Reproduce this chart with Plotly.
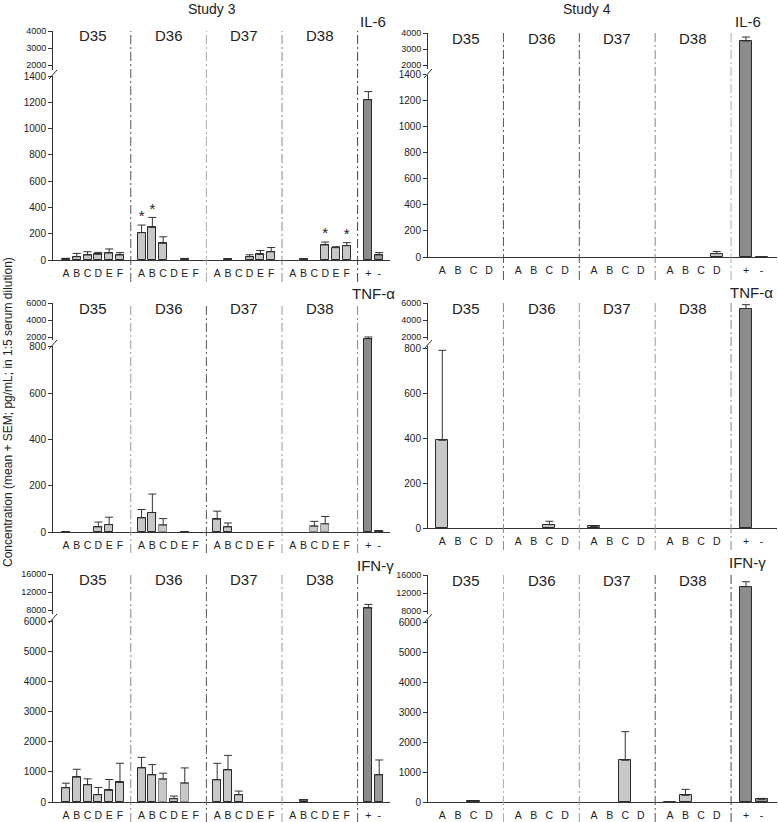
import plotly.graph_objects as go

W, H = 778, 822

groups = ["D35", "D36", "D37", "D38"]
letters_s3 = ["A", "B", "C", "D", "E", "F"]
letters_s4 = ["A", "B", "C", "D"]
ctrl_labels = ["+", "-"]
cytokines = ["IL-6", "TNF-α", "IFN-γ"]
studies = ["Study 3", "Study 4"]

# ---- Study 3 (groups D35..D38, animals A..F); None = no bar ----
il6_s3_mean = [[10, 25, 38, 43, 53, 38], [208, 248, 127, None, 10, None],
               [None, 5, None, 25, 42, 62], [None, 5, None, 114, 94, 109]]
il6_s3_sem = [[3, 25, 25, 15, 31, 18], [58, 76, 50, None, 2, None],
              [None, 2, None, 15, 30, 33], [None, 2, None, 23, 7, 23]]
il6_s3_ctrl = [1220, 38]
il6_s3_ctrl_sem = [62, 18]

tnf_s3_mean = [[2, None, None, 22, 32, None], [61, 84, 30, None, 2, None],
               [55, 22, None, None, None, None], [None, None, 25, 35, None, None]]
tnf_s3_sem = [[0, None, None, 21, 32, None], [36, 80, 28, None, 0, None],
              [35, 17, None, None, None, None], [None, None, 21, 32, None, None]]
tnf_s3_ctrl = [1800, 3]
tnf_s3_ctrl_sem = [200, 0]

ifn_s3_mean = [[473, 824, 571, 242, 385, 648], [1132, 901, 758, 110, 626, None],
               [736, 1066, 242, None, None, None], [None, 60, None, None, None, None]]
ifn_s3_sem = [[153, 264, 198, 242, 362, 638], [352, 341, 198, 88, 506, None],
              [550, 483, 121, None, None, None], [None, 20, None, None, None, None]]
ifn_s3_ctrl = [8500, 901]
ifn_s3_ctrl_sem = [800, 495]

# ---- Study 4 (groups D35..D38, animals A..D) ----
il6_s4_mean = [[None] * 4, [None] * 4, [None] * 4, [None, None, None, 26]]
il6_s4_sem = [[None] * 4, [None] * 4, [None] * 4, [None, None, None, 16]]
il6_s4_ctrl = [3500, 3]
il6_s4_ctrl_sem = [250, 0]

tnf_s4_mean = [[390, None, None, None], [None, None, 15, None],
               [7, None, None, None], [None] * 4]
tnf_s4_sem = [[400, None, None, None], [None, None, 15, None],
              [3, None, None, None], [None] * 4]
tnf_s4_ctrl = [5350, None]
tnf_s4_ctrl_sem = [450, None]

ifn_s4_mean = [[None, None, 20, None], [None] * 4,
               [None, None, 1390, None], [15, 222, None, None]]
ifn_s4_sem = [[None, None, 0, None], [None] * 4,
              [None, None, 955, None], [0, 200, None, None]]
ifn_s4_ctrl = [13400, 90]
ifn_s4_ctrl_sem = [1100, 30]

# tick values for the broken axes (lower part, upper part)
il6_ticks_low = [0, 200, 400, 600, 800, 1000, 1200, 1400]
il6_ticks_high = [2000, 3000, 4000]
tnf_ticks_low = [0, 200, 400, 600, 800]
tnf_ticks_high = [2000, 4000, 6000]
ifn_ticks_low = [0, 1000, 2000, 3000, 4000, 5000, 6000]
ifn_ticks_high = [8000, 12000, 16000]

# ---------------- layout geometry (pixels) ----------------
COLS = {
    0: dict(x0=53, x1=390, period=7.0, first_div=6.0, ctrl=[28, 29], rng=[-1.2, 30.0],
            letters=letters_s3, bw=0.74, label_cx=[373, 373, 375]),
    1: dict(x0=428, x1=777, period=4.865, first_div=3.92, ctrl=[19.47, 20.47], rng=[-0.917, 21.46],
            letters=letters_s4, bw=0.77, label_cx=[748, 751, 747]),
}
ROWS = {
    (0, 0): dict(zero=260, brk=72, top=31, bmax=1431, trng=[1600, 4000], lab=282),
    (0, 1): dict(zero=257, brk=71, top=33, bmax=1425, trng=[1625, 4000], lab=280),
    (1, 0): dict(zero=532, brk=342, top=303, bmax=821, trng=[1412, 6000], lab=553),
    (1, 1): dict(zero=528, brk=342, top=303, bmax=827, trng=[1412, 6000], lab=550),
    (2, 0): dict(zero=802, brk=616, top=574, bmax=6179, trng=[6744, 16000], lab=822),
    (2, 1): dict(zero=802, brk=616, top=575, bmax=6200, trng=[6900, 16000], lab=822),
}
YTICKS = [(il6_ticks_low, il6_ticks_high), (tnf_ticks_low, tnf_ticks_high),
          (ifn_ticks_low, ifn_ticks_high)]
LABEL_Y = [[22, 21], [293, 292], [565, 562]]
DIV_COLORS = {
    (0, 0): ["#555", "#aaa", "#888", "#444"],
    (0, 1): ["#555", "#555", "#888", "#aaa"],
    (1, 0): ["#999", "#555", "#999", "#888"],
    (1, 1): ["#888", "#999", "#999", "#888"],
    (2, 0): ["#888", "#555", "#999", "#555"],
    (2, 1): ["#aaa", "#999", "#555", "#444"],
}
LIGHT_OUTLINE = {(1, 0): [(1, 2), (3, 2), (3, 3)], (2, 0): [(1, 2), (1, 4)]}

DATA = {
    (0, 0): (il6_s3_mean, il6_s3_sem, il6_s3_ctrl, il6_s3_ctrl_sem),
    (0, 1): (il6_s4_mean, il6_s4_sem, il6_s4_ctrl, il6_s4_ctrl_sem),
    (1, 0): (tnf_s3_mean, tnf_s3_sem, tnf_s3_ctrl, tnf_s3_ctrl_sem),
    (1, 1): (tnf_s4_mean, tnf_s4_sem, tnf_s4_ctrl, tnf_s4_ctrl_sem),
    (2, 0): (ifn_s3_mean, ifn_s3_sem, ifn_s3_ctrl, ifn_s3_ctrl_sem),
    (2, 1): (ifn_s4_mean, ifn_s4_sem, ifn_s4_ctrl, ifn_s4_ctrl_sem),
}

FONT = "Liberation Sans, Arial, sans-serif"
AX = "#333333"


def px(xp):
    return xp / W


def py(yp):
    return 1 - yp / H


def sfx(n):
    return "" if n == 1 else str(n)


def label(x, y, text, size, xref="paper", **kw):
    return dict(xref=xref, yref="paper", x=x, y=y, text=text, showarrow=False,
                xanchor="center", yanchor="middle", font=dict(size=size, color="#222"), **kw)


fig = go.Figure()
layout = dict(width=W, height=H, margin=dict(l=0, r=0, t=0, b=0, pad=0, autoexpand=False),
              showlegend=False, template="none",
              plot_bgcolor="white", paper_bgcolor="white", font=dict(family=FONT, color="#222"))
shapes, annotations = [], []

for (r, c), (means, sems, cmeans, csems) in DATA.items():
    p = r * 2 + c
    nb, nt = 2 * p + 1, 2 * p + 2
    col, geo = COLS[c], ROWS[(r, c)]
    letters = col["letters"]
    xs, ys, es, fills, lines, tv, tt = [], [], [], [], [], [], []
    light = LIGHT_OUTLINE.get((r, c), [])
    for g in range(len(groups)):
        for i, let in enumerate(letters):
            x = g * col["period"] + i
            tv.append(x)
            tt.append(let)
            xs.append(x)
            ys.append(means[g][i])
            es.append(sems[g][i] if sems[g][i] is not None else 0)
            fills.append("#c8c8c8")
            lines.append("#8a8a8a" if (g, i) in light else "#2b2b2b")
    for k, lab in enumerate(ctrl_labels):
        x = col["ctrl"][k]
        tv.append(x)
        tt.append(lab)
        xs.append(x)
        ys.append(cmeans[k])
        es.append(csems[k] if csems[k] is not None else 0)
        fills.append("#8c8c8c" if k == 0 else "#9c9c9c")
        lines.append("#2b2b2b")

    for n in (nb, nt):
        fig.add_trace(go.Bar(
            x=xs, y=ys, width=col["bw"], xaxis="x" + sfx(n), yaxis="y" + sfx(n),
            marker=dict(color=fills, line=dict(color=lines, width=1)),
            error_y=dict(type="data", symmetric=False, array=es, arrayminus=[0] * len(es),
                         color="#333", thickness=1, width=4),
            hoverinfo="skip"))

    xdom = [px(col["x0"]), px(col["x1"])]
    btick, ttick = YTICKS[r]
    common_y = dict(tickmode="array", ticks="outside", ticklen=4, tickcolor=AX, showline=True,
                    linecolor=AX, linewidth=1, showgrid=False, zeroline=False,
                    automargin=False, fixedrange=True)
    layout["xaxis" + sfx(nb)] = dict(domain=xdom, range=col["rng"], anchor="y" + sfx(nb),
                                     tickmode="array", tickvals=tv, ticktext=tt, ticks="",
                                     showline=True, linecolor=AX, linewidth=1, showgrid=False,
                                     zeroline=False, tickfont=dict(size=10.5, color="#222"),
                                     ticklabelstandoff=3, automargin=False, fixedrange=True)
    layout["xaxis" + sfx(nt)] = dict(domain=xdom, range=col["rng"], anchor="y" + sfx(nt),
                                     visible=False, automargin=False, fixedrange=True)
    layout["yaxis" + sfx(nb)] = dict(domain=[py(geo["zero"]), py(geo["brk"])], range=[0, geo["bmax"]],
                                     anchor="x" + sfx(nb), tickvals=btick,
                                     ticktext=[str(v) for v in btick],
                                     tickfont=dict(size=10, color="#222"), **common_y)
    layout["yaxis" + sfx(nt)] = dict(domain=[py(geo["brk"]), py(geo["top"])], range=geo["trng"],
                                     anchor="x" + sfx(nt), tickvals=ttick,
                                     ticktext=[str(v) for v in ttick],
                                     tickfont=dict(size=9, color="#222"), **common_y)

    # group dividers and day labels
    for g in range(len(groups)):
        xd = g * col["period"] + col["first_div"]
        shapes.append(dict(type="line", xref="x" + sfx(nb), yref="paper", x0=xd, x1=xd,
                           y0=py(geo["lab"]), y1=py(geo["top"]),
                           line=dict(color=DIV_COLORS[(r, c)][g], width=1, dash="9px,3px,2px,3px")))
        annotations.append(label(g * col["period"] + (len(letters) - 1) / 2, py(geo["top"] + 5),
                                 groups[g], 15, xref="x" + sfx(nb)))
    # axis break marks
    ax0 = col["x0"]
    b = geo["brk"]
    shapes.append(dict(type="rect", xref="paper", yref="paper", x0=px(ax0 - 2), x1=px(ax0 + 2),
                       y0=py(b + 4), y1=py(b - 2), fillcolor="white", line=dict(width=0), layer="above"))
    shapes.append(dict(type="line", xref="paper", yref="paper", x0=px(ax0 - 4), x1=px(ax0 + 4),
                       y0=py(b + 7), y1=py(b - 2), line=dict(color=AX, width=1), layer="above"))
    # cytokine label
    annotations.append(label(px(col["label_cx"][r]), py(LABEL_Y[r][c]), cytokines[r], 15))

# significance stars (IL-6, Study 3)
star_pts = [(1, 0), (1, 1), (3, 3), (3, 5)]
fig.add_trace(go.Scatter(
    x=[g * 7.0 + i for g, i in star_pts],
    y=[il6_s3_mean[g][i] + il6_s3_sem[g][i] for g, i in star_pts],
    mode="text", text=["*"] * len(star_pts), textposition="top center",
    textfont=dict(size=15, color="#222", family=FONT), xaxis="x", yaxis="y",
    hoverinfo="skip", cliponaxis=False))

# study titles
annotations.append(label(px(212), py(9), studies[0], 14))
annotations.append(label(px(587), py(9), studies[1], 14))
# y-axis title
annotations.append(label(px(8), py(412), "Concentration (mean + SEM; pg/mL; in 1:5 serum dilution)",
                         12, textangle=-90))

layout["shapes"] = shapes
layout["annotations"] = annotations
layout["bargap"] = 0
fig.update_layout(**layout)
fig.write_html("out.html", config={"displayModeBar": False},
               post_script="document.body.style.margin='0px';")
